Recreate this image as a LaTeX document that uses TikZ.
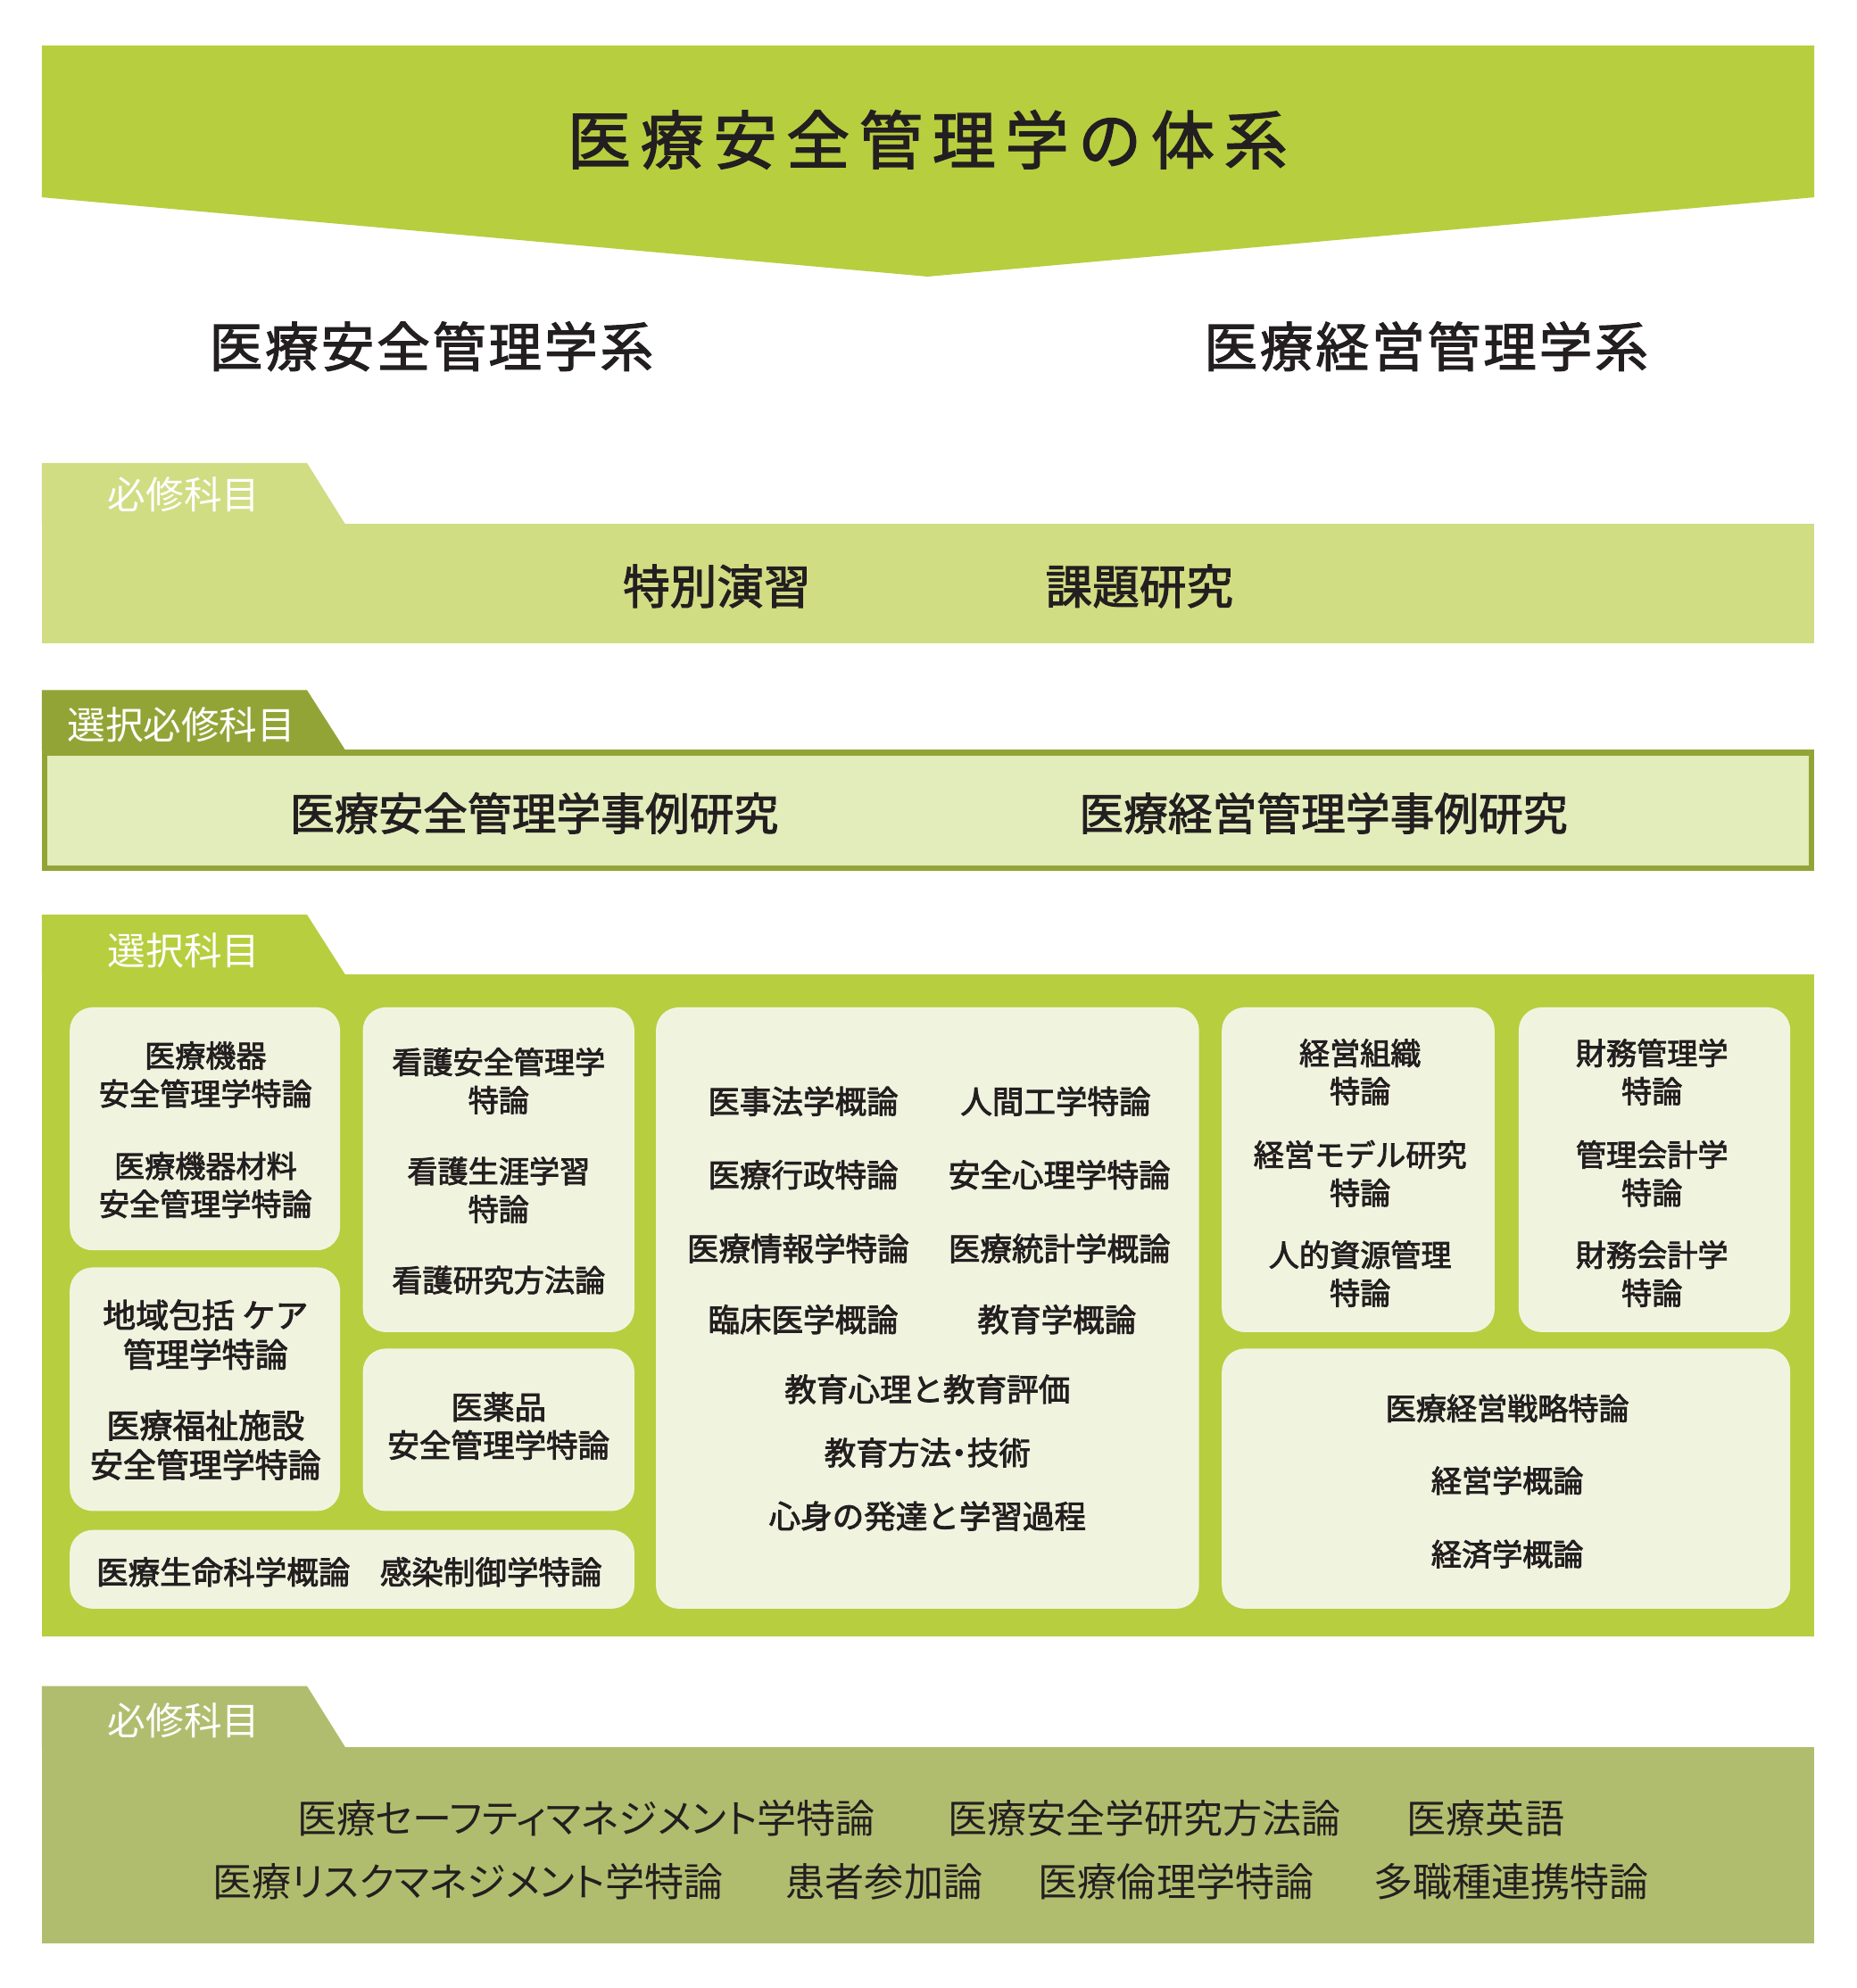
\documentclass[tikz,border=0pt]{standalone}
\usepackage{fontspec}
\setmainfont{Noto Sans CJK JP}
\newfontfamily\jpm[FakeBold=2.5]{Noto Sans CJK JP}
\newfontfamily\jph[FakeBold=2]{Noto Sans CJK JP}
\newfontfamily\jpp[RawFeature=+palt]{Noto Sans CJK JP}
\newfontfamily\jpmp[FakeBold=2.5,RawFeature=+palt]{Noto Sans CJK JP}
\definecolor{gmain}{HTML}{B7CE3F}
\definecolor{glight}{HTML}{D0DD83}
\definecolor{golive}{HTML}{93A437}
\definecolor{gpale}{HTML}{E3ECBB}
\definecolor{gbox}{HTML}{F0F4DF}
\definecolor{gbottom}{HTML}{B1BD6E}
\definecolor{txt}{HTML}{231F20}
\newcommand\tsp{\hspace{7.5pt}}
\newcommand\ssp{\hspace{2pt}}
\begin{document}
\begin{tikzpicture}[x=1pt,y=-1pt,
  every node/.style={inner sep=0pt, outer sep=0pt, text=txt},
  tabtext/.style={text=white, font=\fontsize{30}{34}\selectfont},
  headtext/.style={font=\jph\fontsize{42}{50}\selectfont},
  bandtext/.style={font=\jph\fontsize{37}{44}\selectfont},
  casetext/.style={font=\jph\fontsize{35}{42}\selectfont},
  item/.style={align=center, font=\jpm\fontsize{24}{30}\selectfont},
  itemL/.style={align=center, font=\jpm\fontsize{26}{31}\selectfont},
  itemM/.style={align=center, font=\jpm\fontsize{25}{30}\selectfont},
  bottomtext/.style={font=\jpp\fontsize{31}{36}\selectfont},
  innerbox/.style={fill=gbox, rounded corners=18pt}]
\useasboundingbox (0,0) rectangle (1463,1567);

% ---- top banner ----
\fill[gmain] (33,36) -- (1430,36) -- (1430,155.5) -- (731,218) -- (33,155.5) -- cycle;
\node[font=\jph\fontsize{50}{60}\selectfont] (title) at (731,110)
  {医\tsp 療\tsp 安\tsp 全\tsp 管\tsp 理\tsp 学\tsp の\tsp 体\tsp 系};

\node[headtext] (deptA) at (340,273) {医\ssp 療\ssp 安\ssp 全\ssp 管\ssp 理\ssp 学\ssp 系};
\node[headtext] (deptB) at (1124,273) {医\ssp 療\ssp 経\ssp 営\ssp 管\ssp 理\ssp 学\ssp 系};

% ---- section 1: 必修科目 ----
\fill[glight] (33,365) -- (242,365) -- (272,413) -- (33,413) -- cycle;
\fill[glight] (33,413) rectangle (1430,507);
\node[tabtext] (tab1) at (145,390) {必修科目};
\node[bandtext] (s1a) at (565,462) {特別演習};
\node[bandtext] (s1b) at (898,462) {課題研究};

% ---- section 2: 選択必修科目 ----
\fill[golive] (33,544) -- (242,544) -- (272,591) -- (33,591) -- cycle;
\fill[gpale] (33,591) rectangle (1430,686.5);
\draw[golive, line width=4.5pt] (35.25,593.25) rectangle (1427.75,684.25);
\node[tabtext] (tab2) at (143,571) {選択必修科目};
\node[casetext] (s2a) at (421,641) {医療安全管理学事例研究};
\node[casetext] (s2b) at (1043,641) {医療経営管理学事例研究};

% ---- section 3: 選択科目 ----
\fill[gmain] (33,721) -- (242,721) -- (272,768) -- (33,768) -- cycle;
\fill[gmain] (33,768) rectangle (1430,1290);
\node[tabtext] (tab3) at (145,749) {選択科目};

\fill[innerbox] (55,794) rectangle (268,985.5);
\fill[innerbox] (286,794) rectangle (500,1050);
\fill[innerbox] (55,999) rectangle (268,1191);
\fill[innerbox] (286,1063) rectangle (500,1191);
\fill[innerbox] (55,1206) rectangle (500,1268);
\fill[innerbox] (517,794) rectangle (945,1268);
\fill[innerbox] (963,794) rectangle (1178,1050);
\fill[innerbox] (1197,794) rectangle (1411,1050);
\fill[innerbox] (963,1063) rectangle (1411,1268);

\node[item] (a1) at (162,847) {医療機器\\安全管理学特論};
\node[item] (a2) at (162,934) {医療機器材料\\安全管理学特論};
\node[item] (b1) at (393,852) {看護安全管理学\\特論};
\node[item] (b2) at (393,938) {看護生涯学習\\特論};
\node[item] (b3) at (393,1009) {看護研究方法論};
\node[itemL] (c1) at (162,1052) {地域包括 ケア\\管理学特論};
\node[itemL] (c2) at (162,1139) {医療福祉施設\\安全管理学特論};
\node[itemM] (d1) at (393,1124) {医薬品\\安全管理学特論};
\node[itemM] (e1) at (176,1239) {医療生命科学概論};
\node[itemM] (e2) at (387,1239) {感染制御学特論};

\node[itemM] (f1) at (633,868) {医事法学概論};
\node[itemM] (f2) at (832,868) {人間工学特論};
\node[itemM] (f3) at (633,926) {医療行政特論};
\node[itemM] (f4) at (835,926) {安全心理学特論};
\node[itemM] (f5) at (629,984) {医療情報学特論};
\node[itemM] (f6) at (835,984) {医療統計学概論};
\node[itemM] (f7) at (633,1040) {臨床医学概論};
\node[itemM] (f8) at (833,1040) {教育学概論};
\node[itemM] (f9) at (731,1095) {教育心理と教育評価};
\node[itemM, font=\jpmp\fontsize{25}{30}\selectfont] (f10) at (731,1145) {教育方法・技術};
\node[itemM] (f11) at (731,1195) {心身の発達と学習過程};

\node[item] (g1) at (1072,845) {経営組織\\特論};
\node[item] (g2) at (1072,925) {経営モデル研究\\特論};
\node[item] (g3) at (1072,1004) {人的資源管理\\特論};
\node[item] (h1) at (1302,845) {財務管理学\\特論};
\node[item] (h2) at (1302,925) {管理会計学\\特論};
\node[item] (h3) at (1302,1004) {財務会計学\\特論};
\node[item] (i1) at (1188,1110) {医療経営戦略特論};
\node[item] (i2) at (1188,1167) {経営学概論};
\node[item] (i3) at (1188,1225) {経済学概論};

% ---- section 4: 必修科目 ----
\fill[gbottom] (33,1329) -- (242,1329) -- (272,1377) -- (33,1377) -- cycle;
\fill[gbottom] (33,1377) rectangle (1430,1532);
\node[tabtext] (tab4) at (145,1356) {必修科目};
\node[bottomtext] (k1) at (462,1433) {医療セーフティマネジメント学特論};
\node[bottomtext] (k2) at (902,1433) {医療安全学研究方法論};
\node[bottomtext] (k3) at (1171,1433) {医療英語};
\node[bottomtext] (k4) at (369,1483) {医療リスクマネジメント学特論};
\node[bottomtext] (k5) at (697,1483) {患者参加論};
\node[bottomtext] (k6) at (927,1483) {医療倫理学特論};
\node[bottomtext] (k7) at (1191,1483) {多職種連携特論};
\end{tikzpicture}
\end{document}
